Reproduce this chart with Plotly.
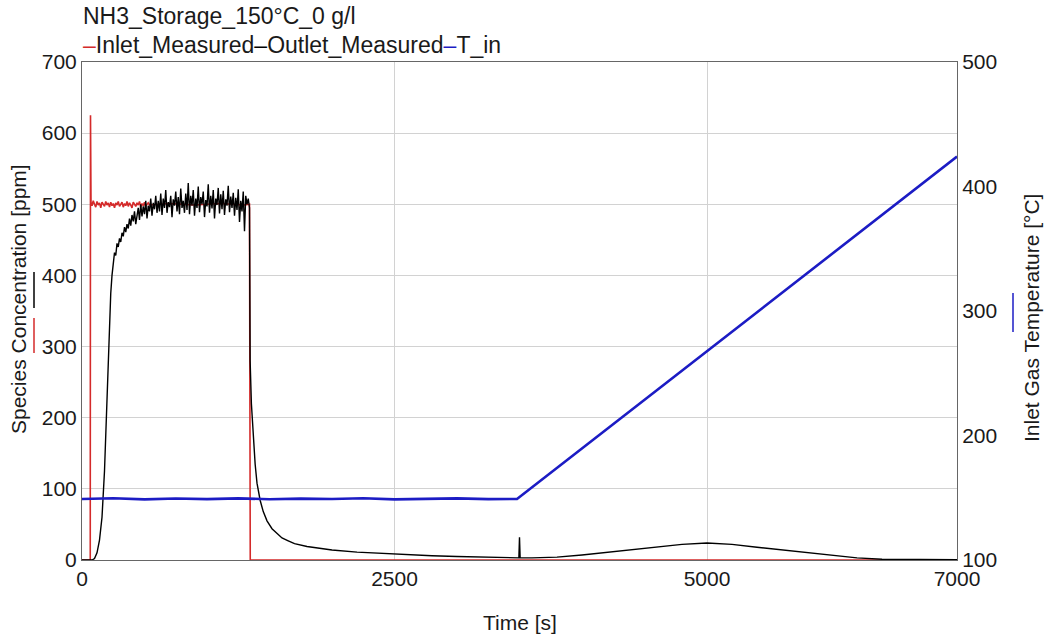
import plotly.graph_objects as go

# ---------------- data ----------------
# Inlet_Measured (red, left axis, ppm)
inlet_t = [0, 66, 68, 70, 72, 80, 90, 100, 110, 120, 130, 140, 150, 160, 170, 180, 190, 200,
           210, 220, 230, 240, 250, 260, 270, 280, 290, 300, 310, 320, 330, 340, 350, 360,
           370, 380, 390, 400, 410, 420, 430, 440, 450, 460, 470, 480, 490, 500, 510, 520,
           530, 540, 600, 700, 800, 900, 1000, 1100, 1200, 1300, 1340, 1343, 1346, 7000]
inlet_v = [0, 0, 625, 560, 503, 498, 505, 500, 496, 504, 499, 502, 495, 503, 500, 497, 504, 499,
           502, 496, 503, 498, 501, 495, 502, 499, 504, 497, 500, 503, 496, 501, 498, 504,
           497, 502, 499, 495, 503, 500, 497, 502, 499, 504, 496, 501, 498, 503, 497, 500,
           502, 499, 500, 501, 500, 499, 500, 501, 500, 499, 500, 250, 0, 0]

# Outlet_Measured (black, left axis, ppm)
outlet_t = [0, 80, 100, 120, 140, 160, 180, 200, 215, 230, 240] + list(range(250, 1341, 10)) + \
           [1345, 1355, 1370, 1385, 1400, 1425, 1450, 1480, 1520, 1560, 1600, 1650, 1700, 1800,
            1900, 2000, 2200, 2400, 2600, 2800, 3000, 3200, 3400, 3495, 3500, 3505, 3600, 3800,
            4000, 4200, 4400, 4600, 4800, 5000, 5200, 5400, 5600, 5800, 6000, 6200, 6400, 6600,
            7000]
outlet_v = [0, 0, 2, 10, 28, 60, 125, 235, 320, 375, 400] + \
           [420, 432, 428, 445, 440, 452, 447, 460, 455, 468, 461, 472, 466, 480, 470, 485,
            476, 490, 472, 488, 495, 478, 500, 483, 497, 486, 505, 480, 498, 490, 508, 484, 502, 493, 512, 488,
            505, 490, 515, 485, 508, 495, 520, 488, 503, 496, 512, 482, 507, 498, 518, 490, 510, 486, 522, 495,
            505, 488, 515, 492, 530, 486, 512, 498, 520, 484, 508, 495, 525, 489, 510, 500, 518, 482, 506, 497,
            528, 488, 512, 494, 520, 480, 508, 499, 523, 487, 514, 493, 519, 485, 507, 498, 526, 489, 511, 495,
            516, 484, 509, 492, 521, 475, 505, 490, 518, 462, 512, 500, 508, 495] + \
           [280, 220, 175, 135, 108, 84, 68, 55, 44, 37, 31, 27, 23, 19,
            16, 14, 11, 9, 7, 6, 5, 4, 3, 3, 32, 3, 3, 4,
            7, 11, 15, 19, 22, 24, 22, 18, 14, 10, 6, 3, 1, 0.5,
            0.5]

# T_in (blue, right axis, degC)
temp_t = [0, 250, 500, 750, 1000, 1250, 1500, 1750, 2000, 2250, 2500, 2750, 3000, 3250, 3480, 7000]
temp_v = [149, 149.6, 148.7, 149.4, 148.9, 149.5, 148.8, 149.3, 149.0, 149.6, 148.7, 149.2, 149.5, 148.9, 149, 424]

title_text = "NH3_Storage_150°C_0 g/l"
names = ["Inlet_Measured", "Outlet_Measured", "T_in"]
x_title = "Time [s]"
y_title = "Species Concentration [ppm]"
y2_title = "Inlet Gas Temperature [°C]"
colors = ["#d42a2a", "#000000", "#1c1cc4"]
FONT = "Liberation Sans, Arial, sans-serif"
TXT = "#1a1a1a"

W, H = 1047, 635
L, R, T, B = 82, 90, 62, 75
PW, PH = W - L - R, H - T - B


def px_x(x):
    return (x - L) / PW


def px_y(y):
    return (H - B - y) / PH


fig = go.Figure()
fig.add_trace(go.Scatter(x=inlet_t, y=inlet_v, mode="lines", name=names[0],
                         line=dict(color=colors[0], width=1.6), showlegend=False))
fig.add_trace(go.Scatter(x=outlet_t, y=outlet_v, mode="lines", name=names[1],
                         line=dict(color=colors[1], width=1.4), showlegend=False))
fig.add_trace(go.Scatter(x=temp_t, y=temp_v, mode="lines", name=names[2], yaxis="y2",
                         line=dict(color=colors[2], width=2.6), showlegend=False))

fig.update_layout(
    width=W, height=H,
    margin=dict(l=L, r=R, t=T, b=B),
    paper_bgcolor="white", plot_bgcolor="white",
    font=dict(family=FONT, size=21, color=TXT),
    title=dict(text=title_text, xref="container", yref="container",
               x=83 / W, y=1 - 16 / H, xanchor="left", yanchor="middle",
               font=dict(size=23, color=TXT)),
    xaxis=dict(range=[0, 7000], tickvals=[0, 2500, 5000, 7000], showgrid=True,
               gridcolor="#d2d2d2", gridwidth=1, zeroline=False, showline=True,
               linecolor="#666666", linewidth=1, mirror=True, ticks="", automargin=False,
               tickfont=dict(size=21)),
    yaxis=dict(range=[0, 700], dtick=100, showgrid=True, gridcolor="#d2d2d2",
               zeroline=False, showline=True, linecolor="#666666", linewidth=1, ticks="",
               automargin=False, tickfont=dict(size=21)),
    yaxis2=dict(range=[100, 500], dtick=100, overlaying="y", side="right", showgrid=False,
                zeroline=False, showline=True, linecolor="#666666", linewidth=1, ticks="",
                automargin=False, tickfont=dict(size=21)),
)

# axis titles
fig.add_annotation(text=x_title, xref="paper", yref="paper", x=px_x(520), y=px_y(622),
                   xanchor="center", yanchor="middle", showarrow=False, font=dict(size=21, color=TXT))
fig.add_annotation(text=y_title, xref="paper", yref="paper", x=px_x(18), y=px_y(299),
                   xanchor="center", yanchor="middle", showarrow=False, textangle=-90,
                   font=dict(size=21, color=TXT))
fig.add_annotation(text=y2_title, xref="paper", yref="paper", x=px_x(1031), y=px_y(318),
                   xanchor="center", yanchor="middle", showarrow=False, textangle=-90,
                   font=dict(size=21, color=TXT))

legend_html = (f"<span style='color:{colors[0]}'>–</span>{names[0]}"
               f"<span style='color:{colors[1]}'>–</span>{names[1]}"
               f"<span style='color:{colors[2]}'>–</span>{names[2]}")
fig.add_annotation(text=legend_html, xref="paper", yref="paper", x=px_x(81),
                   y=px_y(45), xanchor="left", yanchor="middle", showarrow=False,
                   font=dict(size=23, color=TXT))

# colored indicator ticks next to axis titles
for (x, y0, y1, c) in [(34, 272, 308, colors[1]), (34, 318, 353, colors[0]), (1013, 293, 332, colors[2])]:
    fig.add_shape(type="line", xref="paper", yref="paper",
                  x0=px_x(x), x1=px_x(x), y0=px_y(y1), y1=px_y(y0),
                  line=dict(color=c, width=1.5))

fig.write_html("out.html")
